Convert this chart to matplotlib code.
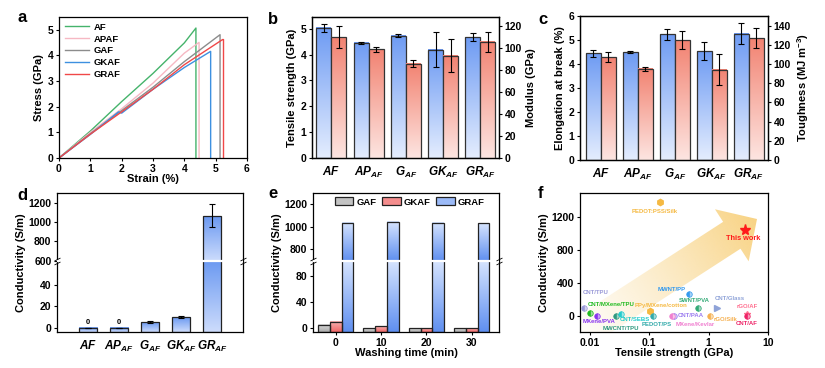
import numpy as np
import matplotlib
matplotlib.use('Agg')
import matplotlib.pyplot as plt
from matplotlib.colors import to_rgb
from matplotlib.patches import Polygon, Patch
from matplotlib.path import Path

plt.rcParams['font.family'] = ['Liberation Sans', 'DejaVu Sans']
plt.rcParams['font.weight'] = 'bold'
plt.rcParams['axes.labelweight'] = 'bold'
plt.rcParams['mathtext.fontset'] = 'custom'
plt.rcParams['mathtext.rm'] = 'Liberation Sans:bold'
plt.rcParams['mathtext.bf'] = 'Liberation Sans:bold:italic'
plt.rcParams['axes.linewidth'] = 0.9
plt.rcParams['xtick.major.width'] = 0.8
plt.rcParams['ytick.major.width'] = 0.8
plt.rcParams['xtick.major.size'] = 2.5
plt.rcParams['ytick.major.size'] = 2.5
plt.rcParams['xtick.labelsize'] = 7.5
plt.rcParams['ytick.labelsize'] = 7.5
plt.rcParams['axes.labelsize'] = 8
plt.rcParams['xtick.major.pad'] = 1.5
plt.rcParams['ytick.major.pad'] = 1.5

# ---------------- data ----------------
# (a) stress-strain curves
strain_af = [0, 1, 2, 3, 4, 4.37, 4.37]
stress_af = [0, 1.05, 2.2, 3.3, 4.49, 5.07, 0]
strain_apaf = [0, 1, 2, 3, 4, 4.47, 4.47]
stress_apaf = [0, 1.0, 1.92, 2.92, 4.09, 4.51, 0]
strain_gaf = [0, 1, 2, 3, 4, 5.14, 5.14]
stress_gaf = [0, 0.95, 1.85, 2.76, 3.76, 4.81, 0]
strain_gkaf = [0, 1, 1.9, 2.0, 3, 4, 4.84, 4.84]
stress_gkaf = [0, 0.92, 1.8, 1.75, 2.68, 3.53, 4.16, 0]
strain_graf = [0, 1, 2, 3, 4, 5.22, 5.25, 5.25]
stress_graf = [0, 0.93, 1.8, 2.68, 3.64, 4.62, 4.62, 0]
curve_names = ['AF', 'APAF', 'GAF', 'GKAF', 'GRAF']

# (b), (c), (d) sample categories
sample_labels = [r'$\mathbf{AF}$', r'$\mathbf{AP}_{\mathbf{AF}}$', r'$\mathbf{G}_{\mathbf{AF}}$',
                 r'$\mathbf{GK}_{\mathbf{AF}}$', r'$\mathbf{GR}_{\mathbf{AF}}$']
strength = [5.03, 4.46, 4.73, 4.19, 4.67]
strength_err = [0.16, 0.04, 0.07, 0.67, 0.15]
modulus = [110, 99, 86, 93, 106]
modulus_err = [10, 2, 3.2, 15, 9]
elongation = [4.45, 4.49, 5.23, 4.53, 5.27]
elongation_err = [0.14, 0.05, 0.23, 0.37, 0.42]
toughness = [107, 95, 125, 94, 127]
toughness_err = [5, 2.2, 9, 16, 10.5]
conductivity = [0, 0, 5, 10, 1065]
conductivity_err = [0, 0, 1, 0.6, 120]

# (e) washing durability
wash_time = [0, 10, 20, 30]
wash_gaf = [5, 0, 0, 0]
wash_gkaf = [10, 2.5, 0, 0]
wash_graf = [1036, 1044, 1035, 1032]

# (f) comparison with literature
lit_names = ['PEDOT:PSS/Silk', 'CNT/TPU', 'CNT/MXene/TPU', 'MXene/PVA', 'MWCNT/TPU', 'CNT/SEBS',
             'PPy/MXene/cotton', 'PEDOT/PS', 'MWNT/PP', 'SWNT/PVA', 'CNT/PAA', 'MXene/Kevlar',
             'CNT/Glass', 'rGO/Silk', 'rGO/AF', 'CNT/AF']
lit_strength = [0.153, 0.0079, 0.0101, 0.013, 0.027, 0.034, 0.104, 0.117, 0.464, 0.65,
                0.26, 0.24, 1.4, 1.06, 4.4, 4.4]
lit_conductivity = [1385, 97, 36, 0, 0, 20, 50, 0, 265, 97, 0, 0, 97, 0, 20, 0]
this_work_strength = 4.1
this_work_conductivity = 1042

# styles for (f)
lit_colors = ['#f5b942', '#9a9ad8', '#22bb22', '#8833ee', '#2f9980', '#22cccc', '#f5b942', '#33aaaa',
              '#3399ee', '#33aa77', '#9b7cf0', '#f07fd0', '#8fa3d8', '#f5b050', '#ff7090', '#ee2266']
lit_markers = ['h', 'o', 'o', 'o', 'o', 'o', 'h', 'o', 'o', 'o', 'o', 'o', '>', 'o', '*', 'o']
# label offsets in points and alignment
lit_offsets = [(-4, -7), (-1, 10.5), (-1.5, 6), (-10, -4.5), (-9, -9.5), (-1.5, -4), (-11.5, 4.5),
               (-8.5, -6.5), (-2, 3), (-2, 5), (3, 0), (3, -6.5), (-2, 6.5), (2.5, -3), (0, 5), (0, -6)]
lit_ha = ['center', 'left', 'left', 'left', 'left', 'left', 'left', 'left', 'right', 'center',
          'left', 'left', 'left', 'left', 'center', 'center']

W, H = 825, 368
fig = plt.figure(figsize=(W / 100, H / 100), dpi=100)


def px_axes(l, r, t, b):
    return fig.add_axes([l / W, 1 - b / H, (r - l) / W, (b - t) / H])


def fill_gradient(ax, bar, top, bot, split=None):
    to_axes = ax.transData + ax.transAxes.inverted()
    bb = bar.get_bbox()
    (x0, y0), (x1, y1) = to_axes.transform([[bb.x0, bb.y0], [bb.x1, bb.y1]])
    edges = [y0, y1]
    if split is not None:
        ys = to_axes.transform([[bb.x0, split]])[0][1]
        if y0 < ys < y1:
            edges = [y0, ys, y1]
    t = np.linspace(0, 1, 100)[:, None, None]
    img = (1 - t) * np.array(to_rgb(top)) + t * np.array(to_rgb(bot))
    for lo, hi in zip(edges[:-1], edges[1:]):
        ax.imshow(img, extent=[x0, x1, lo, hi], transform=ax.transAxes, aspect='auto',
                  interpolation='bilinear', zorder=bar.get_zorder() - 0.5, clip_path=bar)


def broken_scale(lo, hi, k_lo, k_hi, eps=1e-4):
    def fwd(y):
        y = np.asarray(y, float)
        v1 = lo * k_lo
        return np.where(y <= lo, y * k_lo,
                        np.where(y <= hi, v1 + (y - lo) * eps, v1 + (hi - lo) * eps + (y - hi) * k_hi))

    def inv(v):
        v = np.asarray(v, float)
        v1 = lo * k_lo
        v2 = v1 + (hi - lo) * eps
        return np.where(v <= v1, v / k_lo,
                        np.where(v <= v2, lo + (v - v1) / eps, hi + (v - v2) / k_hi))
    return fwd, inv


break_mark = Path([(-1.2, -1.4), (1.2, -0.2), (-1.2, 0.2), (1.2, 1.4)],
                  [Path.MOVETO, Path.LINETO, Path.MOVETO, Path.LINETO])


def draw_break(ax, y):
    ax.axhline(y, color='white', lw=1.6, zorder=4.5)
    ax.plot([0, 1], [y, y], transform=ax.get_yaxis_transform(), ls='none', marker=break_mark,
            ms=5, mec='black', mew=0.6, clip_on=False, zorder=5)


def panel_letter(x, y, s):
    fig.text(x / W, 1 - y / H, s, fontsize=12, fontweight='bold', ha='left', va='center')


# ---------------- (a) ----------------
ax = px_axes(59, 247, 17, 158)
a_colors = ['#45b36b', '#f6b8c3', '#8c8c8c', '#3d90e0', '#f04848']
for (sx, sy), name, c in zip([(strain_af, stress_af), (strain_apaf, stress_apaf), (strain_gaf, stress_gaf),
                              (strain_gkaf, stress_gkaf), (strain_graf, stress_graf)], curve_names, a_colors):
    ax.plot(sx, sy, color=c, lw=1.0, label=name)
ax.set_xlim(0, 6)
ax.set_ylim(0, 5.5)
ax.set_xticks(range(0, 7))
ax.set_yticks(range(0, 6))
ax.set_xlabel('Strain (%)', labelpad=0)
ax.set_ylabel('Stress (GPa)', labelpad=3)
ax.legend(loc='upper left', frameon=False, fontsize=6.8, handlelength=2.6, labelspacing=0.3,
          borderaxespad=0.2, handletextpad=0.5)
panel_letter(17, 18, 'a')

x = np.arange(len(sample_labels))
blue_top, blue_bot = '#6e9bf3', '#e4edfe'
red_top, red_bot = '#f28372', '#fde5e1'
err_kw = dict(fmt='none', ecolor='black', elinewidth=0.8, capsize=2, capthick=0.8, zorder=6)


def double_bars(ax, left, left_err, right, right_err, ylim_l, ylim_r, yt_l, yt_r, lab_l, lab_r, xl):
    ax2 = ax.twinx()
    ax.set_xlim(*xl)
    ax.set_ylim(*ylim_l)
    ax2.set_ylim(*ylim_r)
    bl = ax.bar(x - 0.2, left, 0.4, facecolor='none', edgecolor='#333333', lw=0.9, zorder=3)
    br = ax2.bar(x + 0.2, right, 0.4, facecolor='none', edgecolor='#333333', lw=0.9, zorder=3)
    for b in bl:
        fill_gradient(ax, b, blue_top, blue_bot)
    for b in br:
        fill_gradient(ax2, b, red_top, red_bot)
    ax.errorbar(x - 0.2, left, yerr=left_err, **err_kw)
    ax2.errorbar(x + 0.2, right, yerr=right_err, **err_kw)
    ax.set_xlim(*xl)
    ax.set_ylim(*ylim_l)
    ax2.set_ylim(*ylim_r)
    ax.set_yticks(yt_l)
    ax2.set_yticks(yt_r)
    ax.set_xticks(x)
    ax.set_xticklabels(sample_labels, fontsize=8.5)
    ax.tick_params(axis='x', length=0, pad=5)
    ax.set_ylabel(lab_l, labelpad=3)
    ax2.set_ylabel(lab_r, labelpad=3)
    return ax2


# ---------------- (b) ----------------
ax = px_axes(312, 499, 17, 158)
double_bars(ax, strength, strength_err, modulus, modulus_err, (0, 5.45), (0, 128.5),
            range(0, 6), range(0, 121, 20), 'Tensile strength (GPa)', 'Modulus (GPa)', (-0.52, 4.5))
panel_letter(268, 19, 'b')

# ---------------- (c) ----------------
ax = px_axes(580, 768, 16, 160)
double_bars(ax, elongation, elongation_err, toughness, toughness_err, (0, 6), (0, 150),
            range(0, 7), range(0, 141, 20), 'Elongation at break (%)', r'Toughness (MJ m$^{-3}$)',
            (-0.56, 4.52))
panel_letter(538, 19, 'c')

# ---------------- (d) ----------------
ax = px_axes(57, 243, 193, 332)
d_lo, d_hi, d_bottom = 62.5, 600, -4
ax.set_yscale('function', functions=broken_scale(d_lo, d_hi, 1.07, 0.0967))
ax.set_xlim(-1, 5)
ax.set_ylim(d_bottom, 1300)
cond = np.array(conductivity, float)
bars = ax.bar(x, cond - d_bottom, 0.6, bottom=d_bottom, facecolor='none', edgecolor='#222222',
              lw=0.9, zorder=3)
for b in bars:
    fill_gradient(ax, b, '#6b99f1', '#cddcfc', split=d_hi)
ax.errorbar(x, cond, yerr=conductivity_err, **err_kw)
for i, v in enumerate(conductivity):
    if v == 0:
        ax.text(i, v + 2, '0', ha='center', va='bottom', fontsize=5.5)
draw_break(ax, d_hi)
ax.set_xlim(-1, 5)
ax.set_ylim(d_bottom, 1300)
ax.set_yticks([0, 20, 40, 600, 800, 1000, 1200])
ax.set_xticks(x)
ax.set_xticklabels(sample_labels, fontsize=8.5)
ax.tick_params(axis='x', length=0, pad=5)
ax.set_ylabel('Conductivity (S/m)', labelpad=2)
panel_letter(17, 195, 'd')

# ---------------- (e) ----------------
ax = px_axes(313, 499, 193, 332)
e_lo, e_hi, e_bottom = 103, 696, -6
ax.set_yscale('function', functions=broken_scale(e_lo, e_hi, 0.65, 0.1125))
ax.set_xlim(-5, 36)
ax.set_ylim(e_bottom, 1300)
wt = np.array(wash_time, float)
bw = 2.6
series = [(wash_gaf, -bw, '#dcdcdc', '#a9a9a9', 'GAF'),
          (wash_gkaf, 0, '#f9b3b3', '#ef6666', 'GKAF'),
          (wash_graf, bw, '#d6e4fe', '#5f8ff0', 'GRAF')]
handles = []
for vals, off, ctop, cbot, name in series:
    v = np.array(vals, float)
    bars = ax.bar(wt + off, v - e_bottom, bw, bottom=e_bottom, facecolor='none',
                  edgecolor='#222222', lw=0.9, zorder=3)
    for b in bars:
        fill_gradient(ax, b, ctop, cbot, split=e_hi)
    mid = 0.5 * (np.array(to_rgb(ctop)) + np.array(to_rgb(cbot)))
    handles.append(Patch(facecolor=mid, edgecolor='#222222', lw=0.9, label=name))
draw_break(ax, e_hi)
ax.set_xlim(-5, 36)
ax.set_ylim(e_bottom, 1300)
ax.set_xticks(wash_time)
ax.set_yticks([0, 40, 80, 800, 1000, 1200])
ax.set_xlabel('Washing time (min)', labelpad=0)
ax.set_ylabel('Conductivity (S/m)', labelpad=2)
ax.legend(handles=handles, loc='upper center', bbox_to_anchor=(0.52, 1.03), ncol=3, frameon=False,
          fontsize=6.8, handlelength=2.0, handleheight=0.9, handletextpad=0.3, columnspacing=0.6)
panel_letter(268, 194, 'e')

# ---------------- (f) ----------------
fl, fr, ft, fb = 580, 768, 193, 332
ax = px_axes(fl, fr, ft, fb)
ax.set_xscale('log')
ax.set_xlim(0.0068, 10)
ax.set_ylim(-200, 1490)

# background gradient arrow (drawn in pixel geometry, then mapped to axes fraction)
tip = np.array([757.0, 219.0])
u = np.array([25.5, -16.5])
u /= np.hypot(*u)
n = np.array([-u[1], u[0]])
if n[1] < 0:
    n = -n
base = tip - 30 * u
tail = base - 205 * u
arrow_px = np.array([tail + 16 * n, base + 16 * n, base + 31 * n, tip, base - 31 * n,
                     base - 16 * n, tail - 16 * n])
arrow_ax = np.column_stack([(arrow_px[:, 0] - fl) / (fr - fl), (fb - arrow_px[:, 1]) / (fb - ft)])
arrow = Polygon(arrow_ax, closed=True, transform=ax.transAxes, facecolor='none', edgecolor='none')
ax.add_patch(arrow)
gx, gy = np.meshgrid(np.linspace(0, 1, 300), np.linspace(1, 0, 300))
ppx = fl + gx * (fr - fl)
ppy = fb - gy * (fb - ft)
tt = np.clip(((ppx - tail[0]) * u[0] + (ppy - tail[1]) * u[1]) / 235.0, 0, 1)
grad = np.zeros((300, 300, 4))
grad[..., :3] = to_rgb('#f8d17e')
grad[..., 3] = 0.95 * tt ** 1.3
ax.imshow(grad, extent=[0, 1, 0, 1], transform=ax.transAxes, aspect='auto', zorder=1,
          clip_path=arrow, interpolation='bilinear')

for name, sx, sy, c, m, off, ha in zip(lit_names, lit_strength, lit_conductivity, lit_colors,
                                       lit_markers, lit_offsets, lit_ha):
    lighter = 0.45 * np.array(to_rgb(c)) + 0.55
    if m == 'o':
        ax.plot(sx, sy, marker='o', ms=4, color=c, mec=c, mew=0.5, fillstyle='left',
                markerfacecoloralt=lighter, ls='none', zorder=3)
    else:
        ax.plot(sx, sy, marker=m, ms=4.5, color=c, mec=c, ls='none', zorder=3)
    ax.annotate(name, (sx, sy), xytext=off, textcoords='offset points', ha=ha, va='center',
                fontsize=4.3, color=c, fontweight='bold', zorder=4)
ax.plot(this_work_strength, this_work_conductivity, marker='*', ms=8, color='#ff1a1a', ls='none',
        zorder=4)
ax.annotate('This work', (this_work_strength, this_work_conductivity), xytext=(-1.5, -6.5),
            textcoords='offset points', ha='center', va='center', fontsize=5.3, color='#ff1a1a',
            fontweight='bold')
ax.set_xlim(0.0068, 10)
ax.set_ylim(-200, 1490)
ax.set_xticks([0.01, 0.1, 1, 10])
ax.set_xticklabels(['0.01', '0.1', '1', '10'])
ax.minorticks_off()
ax.set_yticks([0, 400, 800, 1200])
ax.set_xlabel('Tensile strength (GPa)', labelpad=0)
ax.set_ylabel('Conductivity (S/m)', labelpad=2)
panel_letter(538, 194, 'f')

fig.savefig('out.png', dpi=100)
